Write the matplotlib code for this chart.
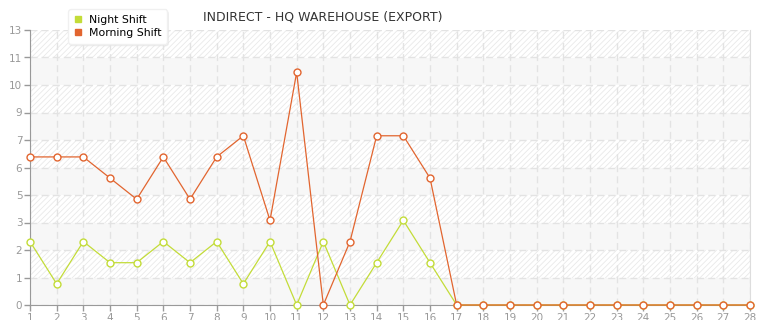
import numpy as np
import matplotlib
matplotlib.use("Agg")
import matplotlib.pyplot as plt
from matplotlib.lines import Line2D

# data
days = list(range(1, 29))
night_shift = [3, 1, 3, 2, 2, 3, 2, 3, 1, 3, 0, 3, 0, 2, 4, 2,
               0, 0, 0, 0, 0, 0, 0, 0, 0, 0, 0, 0]
morning_shift = [7, 7, 7, 6, 5, 7, 5, 7, 8, 4, 11, 0, 3, 8, 8, 6,
                 0, 0, 0, 0, 0, 0, 0, 0, 0, 0, 0, 0]
y_max = 13
n_bands = 10

night_color = '#c3dc38'
morning_color = '#e2652f'
grey = '#999999'

plt.rcParams['font.family'] = ['DejaVu Sans']
plt.rcParams['hatch.linewidth'] = 0.6
plt.rcParams['hatch.color'] = '#e6e6e6'

fig = plt.figure(figsize=(7.65, 3.2), dpi=100)
ax = fig.add_axes([30 / 765, 15 / 320, 720 / 765, 275 / 320])

# striped background bands
step = y_max / n_bands
for i in range(n_bands):
    if i % 2 == 1:
        ax.axhspan(i * step, (i + 1) * step, facecolor='white',
                   edgecolor='#e9e9e9', hatch='//////', lw=0, zorder=0)
    else:
        ax.axhspan(i * step, (i + 1) * step, facecolor='#f7f7f7', lw=0, zorder=0)

ax.plot(days, night_shift, color=night_color, lw=0.9, marker='o', ms=5,
        mfc='white', mec=night_color, mew=1, zorder=3, clip_on=False)
ax.plot(days, morning_shift, color=morning_color, lw=0.9, marker='o', ms=5,
        mfc='white', mec=morning_color, mew=1, zorder=4, clip_on=False)

ax.set_xlim(1, 28)
ax.set_ylim(0, y_max)
ax.set_xticks(days)
yt = np.linspace(0, y_max, n_bands + 1)
ax.set_yticks(yt)
ax.set_yticklabels([str(int(np.floor(v + 1e-9))) for v in yt])

ax.grid(True, color='#e3e3e3', ls=(0, (5, 3)), lw=1)
ax.set_axisbelow(True)
ax.spines['top'].set_visible(False)
ax.spines['right'].set_color('#dddddd')
ax.spines['left'].set_color('#999999')
ax.spines['bottom'].set_color('#999999')
ax.tick_params(colors=grey, labelsize=7.5, length=4, width=1, pad=1.5)

fig.text(323 / 765, 1 - 17 / 320, 'INDIRECT - HQ WAREHOUSE (EXPORT)',
         ha='center', va='center', fontsize=9, color='#333333')

handles = [Line2D([], [], ls='none', marker='s', ms=4, color=night_color),
           Line2D([], [], ls='none', marker='s', ms=4, color=morning_color)]
leg = fig.legend(handles, ['Night Shift', 'Morning Shift'],
                 loc='upper left', bbox_to_anchor=(63 / 765, 1 - 4 / 320),
                 fontsize=7.8, frameon=True, fancybox=True,
                 shadow={'color': '#e4e4e4', 'ox': 1, 'oy': -1.5},
                 handlelength=0.8, handletextpad=0.6, labelspacing=0.3,
                 borderpad=0.5, edgecolor='#f0f0f0', facecolor='white',
                 framealpha=1)
leg.set_zorder(10)

fig.savefig('out.png', dpi=100)
